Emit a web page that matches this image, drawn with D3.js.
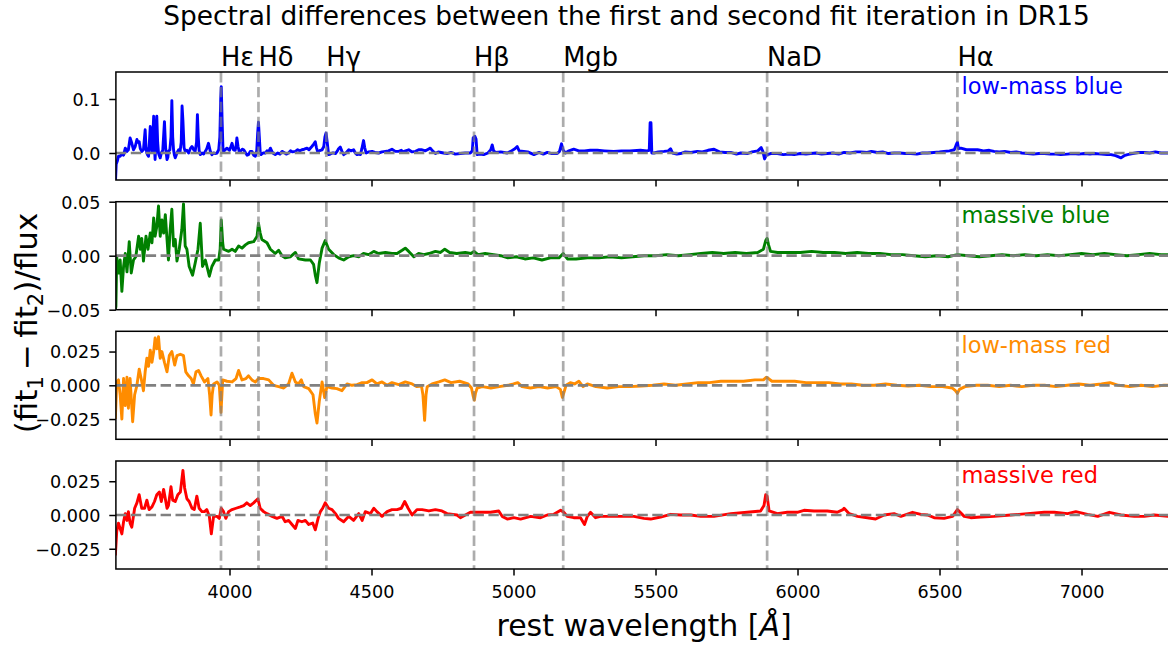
<!DOCTYPE html>
<html><head><meta charset="utf-8">
<script src="https://cdn.jsdelivr.net/npm/d3@7"></script>
<style>
body{margin:0;background:#fff;}
text{font-family:"DejaVu Sans",sans-serif;}
</style>
</head><body>
<svg id="chart" width="1168" height="649"></svg>
<script>
// ---------- data ----------
const title = "Spectral differences between the first and second fit iteration in DR15";
const lineNames = ["Hε","Hδ","Hγ","Hβ","Mgb","NaD","Hα"];
const lineWaves = [3970,4102,4341,4861,5175,5893,6563];
const panelNames = ["low-mass blue","massive blue","low-mass red","massive red"];
const panelColors = ["#0000ff","#008000","#ff8c00","#ff0000"];
const panelYDomains = [[-0.05,0.15],[-0.05,0.05],[-0.04,0.04],[-0.04,0.04]];
const panelYTicks = [[0,0.1],[-0.05,0,0.05],[-0.025,0,0.025],[-0.025,0,0.025]];
const panelYFormats = [".1f",".2f",".3f",".3f"];
const xTicks = [4000,4500,5000,5500,6000,6500,7000];
const xDomain = [3600,7320];

const lowMassBlue = [[3598,-0.06],[3601,-0.021],[3605,-0.015],[3609,-0.006],[3615,-0.006],[3620,-0.002],[3627,-0.004],[3633,0.009],[3639,0.003],[3644,0.006],[3650,0.028],[3656,0.018],[3662,0.006],[3668,0.012],[3674,0.025],[3678,0.02],[3682,0.021],[3686,0.008],[3691,0.003],[3697,0.006],[3703,0.043],[3706,0.01],[3709,0.0],[3712,-0.004],[3715,-0.006],[3718,0.02],[3721,0.049],[3724,0.02],[3727,0.003],[3730,0.03],[3733,0.068],[3736,0.01],[3738,-0.012],[3741,0.02],[3744,0.068],[3747,0.02],[3750,0.0],[3753,-0.005],[3756,-0.009],[3760,0.0],[3765,0.005],[3771,0.058],[3775,0.01],[3780,-0.012],[3783,-0.008],[3785,0.003],[3790,0.006],[3794,0.03],[3797,0.097],[3800,0.03],[3803,0.006],[3806,-0.004],[3809,-0.009],[3815,0.0],[3821,0.006],[3826,0.003],[3830,0.02],[3833,0.087],[3836,0.06],[3840,0.01],[3844,0.003],[3850,0.005],[3856,0.0],[3862,0.008],[3868,0.012],[3874,0.006],[3879,0.003],[3884,0.02],[3887,0.071],[3890,0.03],[3893,0.005],[3897,-0.003],[3903,0.0],[3909,-0.002],[3915,0.003],[3920,0.008],[3926,0.018],[3932,0.004],[3938,-0.003],[3944,0.0],[3950,-0.001],[3956,0.0],[3962,0.006],[3966,0.03],[3969,0.1],[3971,0.123],[3974,0.06],[3977,0.008],[3979,0.003],[3985,0.006],[3991,0.009],[4000,0.005],[4005,0.012],[4009,0.018],[4014,0.006],[4020,0.005],[4024,0.016],[4026,0.028],[4030,0.012],[4034,0.003],[4040,0.004],[4045,0.007],[4050,0.006],[4057,0.0],[4062,-0.004],[4067,-0.003],[4073,0.003],[4079,0.003],[4085,-0.004],[4091,-0.006],[4096,0.005],[4099,0.035],[4102,0.057],[4105,0.03],[4108,0.002],[4111,-0.003],[4118,0.0],[4126,0.0],[4132,0.004],[4138,0.002],[4144,0.009],[4150,0.002],[4155,-0.001],[4161,-0.003],[4170,0.0],[4178,-0.002],[4185,0.003],[4192,0.001],[4200,-0.002],[4208,0.0],[4215,0.004],[4222,0.002],[4232,0.003],[4240,0.006],[4248,0.004],[4255,0.006],[4263,0.007],[4273,0.009],[4280,0.006],[4290,0.012],[4296,0.016],[4302,0.021],[4306,0.01],[4310,0.003],[4314,0.003],[4320,0.005],[4326,0.006],[4332,0.012],[4336,0.03],[4340,0.037],[4344,0.02],[4349,-0.003],[4355,-0.002],[4362,0.0],[4368,0.0],[4373,-0.001],[4380,0.004],[4384,0.008],[4390,0.011],[4396,0.003],[4402,-0.003],[4410,0.0],[4420,0.006],[4428,0.004],[4437,0.006],[4443,0.0],[4449,-0.003],[4455,-0.002],[4461,-0.003],[4466,0.008],[4470,0.018],[4472,0.023],[4476,0.01],[4481,0.0],[4490,0.002],[4502,0.003],[4512,0.001],[4525,0.0],[4537,0.002],[4549,0.003],[4560,0.004],[4572,0.007],[4584,0.003],[4596,0.003],[4605,0.005],[4612,0.002],[4620,0.004],[4631,0.006],[4643,0.002],[4655,0.003],[4666,0.006],[4678,0.006],[4690,0.004],[4700,0.007],[4707,0.009],[4715,0.004],[4725,-0.001],[4735,0.002],[4745,0.001],[4754,0.0],[4766,-0.001],[4780,0.001],[4795,-0.002],[4813,-0.001],[4830,0.0],[4848,0.0],[4855,0.004],[4858,0.028],[4864,0.031],[4868,0.026],[4872,-0.003],[4880,-0.002],[4895,-0.003],[4910,0.0],[4920,0.006],[4925,0.015],[4930,0.004],[4937,0.001],[4955,0.002],[4978,0.0],[4990,0.003],[5005,0.008],[5013,0.012],[5020,0.004],[5036,0.003],[5050,0.002],[5072,-0.003],[5090,0.001],[5105,-0.002],[5119,0.001],[5135,-0.001],[5154,-0.001],[5162,0.003],[5169,0.017],[5175,0.005],[5183,0.0],[5195,0.004],[5212,0.007],[5230,0.004],[5250,0.004],[5270,0.005],[5295,0.005],[5320,0.004],[5353,0.003],[5380,0.004],[5410,0.004],[5447,0.005],[5470,0.004],[5478,0.005],[5481,0.056],[5484,0.056],[5487,0.0],[5495,0.0],[5510,0.002],[5530,0.003],[5545,0.004],[5553,0.008],[5560,0.0],[5575,-0.002],[5588,-0.001],[5605,0.002],[5625,0.001],[5647,0.003],[5665,0.002],[5685,0.005],[5706,0.007],[5725,0.002],[5745,0.001],[5765,0.001],[5785,-0.002],[5800,0.0],[5823,-0.001],[5840,0.002],[5860,0.004],[5872,0.01],[5878,0.003],[5884,-0.011],[5890,-0.004],[5905,-0.001],[5929,-0.001],[5950,-0.003],[5970,-0.002],[5988,-0.003],[6010,-0.001],[6030,-0.002],[6046,-0.001],[6065,0.0],[6085,-0.002],[6105,-0.001],[6125,0.0],[6145,-0.002],[6164,0.001],[6185,0.0],[6205,0.002],[6223,0.002],[6245,0.001],[6260,0.003],[6281,0.001],[6300,0.002],[6320,-0.001],[6340,0.0],[6360,0.0],[6380,-0.001],[6399,-0.001],[6420,-0.002],[6440,0.0],[6458,0.0],[6480,0.001],[6500,0.002],[6516,0.003],[6535,0.004],[6552,0.006],[6558,0.014],[6563,0.02],[6567,0.008],[6575,0.009],[6595,0.006],[6615,0.006],[6634,0.006],[6655,0.004],[6675,0.005],[6692,0.003],[6710,0.002],[6730,0.003],[6751,0.001],[6770,0.002],[6790,0.0],[6810,-0.001],[6830,-0.002],[6850,-0.001],[6869,-0.001],[6890,-0.002],[6910,-0.002],[6927,-0.003],[6950,-0.002],[6970,-0.001],[6990,-0.002],[7010,-0.001],[7030,-0.002],[7045,-0.001],[7070,-0.002],[7090,-0.003],[7104,-0.003],[7120,-0.005],[7139,-0.009],[7150,-0.005],[7162,-0.003],[7180,-0.001],[7200,0.001],[7221,0.001],[7240,0.0],[7260,0.002],[7280,0.0],[7300,0.0],[7320,0.0]];

const massiveBlue = [[3598,-0.05],[3600,-0.047],[3603,-0.001],[3609,-0.016],[3615,-0.004],[3621,-0.033],[3627,-0.01],[3633,0.002],[3639,-0.015],[3647,0.013],[3654,-0.016],[3662,-0.004],[3670,-0.001],[3680,0.018],[3686,0.006],[3691,0.016],[3697,-0.005],[3706,0.018],[3713,0.006],[3721,0.021],[3727,0.012],[3733,0.035],[3738,0.018],[3744,0.027],[3750,0.046],[3756,0.018],[3762,0.033],[3768,0.021],[3774,0.038],[3780,0.015],[3785,-0.004],[3791,0.024],[3797,0.043],[3803,0.009],[3809,0.015],[3815,-0.005],[3823,0.006],[3832,0.024],[3838,0.048],[3844,0.009],[3850,0.006],[3858,-0.01],[3870,-0.018],[3879,-0.007],[3889,0.006],[3897,0.03],[3905,-0.01],[3915,-0.004],[3929,-0.019],[3938,-0.01],[3950,-0.004],[3962,-0.004],[3967,0.006],[3971,0.033],[3976,0.012],[3979,0.006],[3997,0.004],[4009,0.006],[4020,0.004],[4032,0.009],[4044,0.007],[4056,0.01],[4067,0.012],[4085,0.013],[4097,0.018],[4102,0.03],[4108,0.021],[4114,0.015],[4132,0.012],[4144,0.006],[4161,0.002],[4173,0.005],[4185,0.0],[4196,-0.002],[4214,-0.001],[4232,0.003],[4243,-0.003],[4267,-0.004],[4285,-0.004],[4296,-0.008],[4302,-0.018],[4308,-0.025],[4316,-0.007],[4326,0.007],[4337,0.014],[4349,0.006],[4367,0.001],[4384,-0.002],[4402,-0.004],[4420,-0.001],[4437,0.0],[4455,-0.001],[4472,0.002],[4490,0.001],[4508,0.004],[4525,0.002],[4549,0.003],[4572,0.002],[4590,0.002],[4608,0.005],[4619,0.007],[4631,0.004],[4649,-0.001],[4666,0.002],[4684,0.001],[4702,0.002],[4725,0.004],[4743,0.003],[4758,0.006],[4775,0.003],[4800,0.002],[4830,0.003],[4850,0.002],[4861,0.004],[4875,0.001],[4900,0.002],[4930,0.001],[4955,0.0],[4980,-0.002],[5010,-0.001],[5040,-0.003],[5070,-0.002],[5100,-0.004],[5130,-0.002],[5160,-0.002],[5175,0.002],[5190,-0.003],[5220,-0.003],[5260,-0.002],[5300,-0.002],[5340,-0.001],[5380,-0.002],[5420,-0.001],[5460,0.0],[5500,0.0],[5540,0.001],[5580,0.0],[5620,0.001],[5660,0.002],[5700,0.003],[5740,0.002],[5780,0.003],[5820,0.002],[5860,0.003],[5880,0.006],[5888,0.014],[5893,0.016],[5898,0.01],[5905,0.004],[5930,0.003],[5970,0.003],[6010,0.003],[6050,0.004],[6090,0.003],[6130,0.003],[6170,0.002],[6210,0.003],[6250,0.002],[6290,0.002],[6330,0.001],[6370,0.001],[6410,0.0],[6450,-0.001],[6490,0.0],[6530,-0.001],[6563,0.001],[6600,0.0],[6640,-0.001],[6680,0.0],[6720,0.001],[6760,0.0],[6800,0.001],[6840,0.0],[6880,0.001],[6920,0.0],[6960,0.001],[7000,0.002],[7040,0.001],[7080,0.002],[7120,0.001],[7160,0.0],[7200,0.001],[7240,0.002],[7280,0.001],[7320,0.001]];

const lowMassRed = [[3598,-0.025],[3603,0.0025],[3609,0.004],[3615,-0.007],[3621,-0.025],[3627,0.005],[3633,-0.015],[3639,0.006],[3644,-0.017],[3650,0.005],[3659,-0.027],[3666,-0.007],[3674,0.0],[3682,0.012],[3689,0.005],[3697,-0.004],[3703,0.01],[3709,0.02],[3715,0.014],[3721,0.026],[3727,0.017],[3733,0.025],[3738,0.035],[3744,0.027],[3750,0.036],[3756,0.02],[3762,0.025],[3771,0.017],[3780,0.01],[3788,0.022],[3797,0.025],[3807,0.015],[3815,0.022],[3827,0.023],[3838,0.022],[3846,0.01],[3856,0.007],[3865,0.005],[3873,0.001],[3882,0.01],[3891,0.011],[3900,0.007],[3912,0.0025],[3924,0.005],[3930,-0.007],[3935,-0.022],[3939,-0.007],[3944,0.001],[3956,0.0025],[3964,0.0],[3970,-0.02],[3976,0.004],[3991,0.003],[4009,0.0025],[4023,0.005],[4032,0.011],[4044,0.004],[4058,0.005],[4067,0.007],[4079,0.004],[4091,0.0025],[4102,0.005],[4120,0.005],[4138,0.004],[4155,0.0],[4173,-0.001],[4191,-0.002],[4208,0.001],[4220,0.009],[4232,0.0025],[4243,0.001],[4253,0.004],[4261,-0.001],[4279,-0.0025],[4294,-0.007],[4302,-0.021],[4308,-0.028],[4316,-0.012],[4326,0.0025],[4335,-0.009],[4343,-0.001],[4361,-0.002],[4378,-0.0025],[4396,-0.004],[4414,0.001],[4431,0.0],[4449,0.0005],[4467,0.002],[4484,0.002],[4502,0.004],[4519,0.001],[4537,0.0025],[4555,0.0],[4572,0.002],[4596,0.0005],[4619,0.0025],[4643,0.001],[4660,-0.001],[4676,-0.0005],[4681,-0.007],[4687,-0.026],[4692,-0.007],[4696,-0.001],[4713,0.001],[4737,0.0025],[4758,0.004],[4780,0.002],[4810,0.003],[4840,0.001],[4852,-0.002],[4858,-0.008],[4862,-0.011],[4866,-0.006],[4872,-0.002],[4890,-0.001],[4920,-0.002],[4950,-0.001],[4980,0.0],[5000,0.001],[5015,0.002],[5030,-0.001],[5060,-0.002],[5090,-0.001],[5120,-0.002],[5150,-0.001],[5165,-0.003],[5172,-0.009],[5178,-0.005],[5185,0.0],[5200,0.002],[5215,0.001],[5230,0.003],[5245,-0.001],[5260,0.001],[5290,-0.001],[5330,-0.002],[5370,-0.001],[5410,-0.001],[5450,-0.0005],[5490,0.0],[5530,0.001],[5570,0.0],[5610,0.001],[5650,0.002],[5690,0.002],[5730,0.003],[5770,0.003],[5810,0.003],[5850,0.004],[5880,0.004],[5890,0.006],[5898,0.005],[5910,0.003],[5950,0.003],[5990,0.003],[6030,0.002],[6070,0.002],[6110,0.002],[6150,0.001],[6190,0.001],[6230,0.0],[6270,0.0],[6310,0.001],[6350,0.0],[6390,-0.0005],[6430,0.0],[6470,-0.001],[6510,-0.001],[6545,-0.002],[6556,-0.004],[6563,-0.006],[6570,-0.003],[6590,-0.001],[6630,0.0],[6670,0.0],[6710,-0.001],[6750,0.0],[6790,-0.001],[6830,0.0],[6870,0.0],[6910,-0.001],[6950,0.0],[6990,0.001],[7030,0.0],[7070,0.001],[7100,0.002],[7130,0.0],[7170,-0.001],[7210,0.0],[7250,-0.001],[7290,0.0],[7320,0.0]];

const massiveRed = [[3598,-0.03],[3603,-0.012],[3609,-0.006],[3615,-0.01],[3621,-0.014],[3627,-0.005],[3633,0.001],[3639,-0.004],[3644,0.0025],[3650,-0.006],[3656,-0.009],[3666,0.005],[3674,0.009],[3682,0.015],[3691,0.005],[3701,0.005],[3709,0.011],[3717,0.004],[3727,0.006],[3736,0.01],[3744,0.015],[3753,0.017],[3760,0.01],[3768,0.019],[3774,0.012],[3780,0.005],[3785,0.007],[3794,0.021],[3800,0.011],[3809,0.01],[3818,0.015],[3827,0.017],[3836,0.033],[3842,0.02],[3850,0.012],[3858,0.01],[3868,0.005],[3876,0.004],[3885,0.014],[3893,0.005],[3903,0.0025],[3912,0.0025],[3920,0.004],[3929,-0.001],[3936,-0.014],[3944,-0.001],[3956,-0.001],[3964,-0.0025],[3971,0.005],[3979,0.0025],[3987,-0.0025],[3997,0.0025],[4009,0.004],[4023,0.005],[4038,0.006],[4050,0.007],[4061,0.009],[4073,0.007],[4085,0.009],[4100,0.012],[4108,0.005],[4120,0.0025],[4132,0.001],[4150,-0.001],[4167,-0.0025],[4185,-0.001],[4196,-0.005],[4208,-0.004],[4220,-0.007],[4232,-0.01],[4241,-0.004],[4255,-0.005],[4267,-0.004],[4279,-0.007],[4293,-0.006],[4302,-0.011],[4312,-0.0025],[4320,0.0025],[4328,0.005],[4337,0.009],[4349,0.005],[4361,0.004],[4373,0.001],[4384,-0.0025],[4402,-0.005],[4420,-0.001],[4437,-0.004],[4455,0.001],[4467,-0.004],[4478,0.0025],[4496,0.001],[4508,0.005],[4519,0.0025],[4537,-0.001],[4555,0.0025],[4572,0.004],[4590,0.004],[4605,0.005],[4617,0.01],[4629,0.005],[4643,0.0],[4660,0.004],[4678,0.004],[4702,0.003],[4725,0.004],[4748,0.003],[4766,0.001],[4801,0.0],[4813,-0.002],[4848,0.002],[4884,0.002],[4919,0.002],[4948,0.003],[4960,-0.001],[4978,-0.003],[5001,-0.002],[5025,-0.003],[5060,-0.001],[5095,-0.002],[5119,0.0],[5142,0.0005],[5166,0.0035],[5177,0.002],[5189,-0.001],[5212,-0.002],[5236,-0.002],[5250,-0.007],[5260,-0.001],[5271,0.002],[5289,-0.002],[5306,-0.001],[5330,-0.001],[5353,-0.001],[5389,-0.001],[5424,-0.001],[5459,-0.0025],[5483,-0.003],[5518,-0.0015],[5553,0.0005],[5588,0.0],[5624,0.0],[5659,-0.001],[5706,-0.001],[5765,0.001],[5823,0.002],[5870,0.003],[5882,0.007],[5888,0.015],[5893,0.014],[5900,0.003],[5929,0.001],[5964,0.002],[5999,0.002],[6023,0.0035],[6058,0.003],[6105,0.003],[6140,0.002],[6160,0.004],[6164,0.005],[6182,0.001],[6211,-0.001],[6246,-0.002],[6275,-0.003],[6305,0.0],[6340,0.001],[6364,-0.001],[6405,0.002],[6434,0.0005],[6458,0.0],[6481,-0.002],[6516,-0.0025],[6546,-0.001],[6563,0.004],[6587,-0.001],[6610,-0.002],[6645,-0.0015],[6692,-0.001],[6751,0.0],[6810,0.001],[6869,0.002],[6904,0.002],[6951,0.001],[6980,0.0025],[7021,0.0005],[7057,-0.001],[7098,0.002],[7139,0.0],[7186,-0.001],[7221,-0.001],[7256,0.0],[7308,-0.001]];

const panelSeries = [lowMassBlue, massiveBlue, lowMassRed, massiveRed];

// ---------- layout ----------
const W = 1168, H = 649;
const left = 115.9, right = 1172.4;
const panelTops = [72, 201.7, 331.3, 461];
const panelH = 108;
const tickLen = 6.6;

const svg = d3.select("#chart");
const x = d3.scaleLinear().domain(xDomain).range([left, right]);
const fmtMinus = s => s.replace("-", "\u2212");

svg.append("text").attr("x", 626.5).attr("y", 25).attr("text-anchor","middle")
  .attr("font-size", 26.4).attr("fill","#000").text(title);

panelSeries.forEach((data, i) => {
  const top = panelTops[i];
  const y = d3.scaleLinear().domain(panelYDomains[i]).range([top + panelH, top]);
  const g = svg.append("g");
  const clipId = "clip" + i;
  svg.append("clipPath").attr("id", clipId).append("rect")
    .attr("x", left).attr("y", top).attr("width", right - left).attr("height", panelH);

  // spectrum
  g.append("path").datum(data)
    .attr("clip-path", `url(#${clipId})`)
    .attr("fill","none").attr("stroke", panelColors[i]).attr("stroke-width", 2.9)
    .attr("stroke-linejoin","round")
    .attr("d", d3.line().x(d => x(d[0])).y(d => y(d[1])));

  // zero line
  g.append("line").attr("x1", left).attr("x2", right).attr("y1", y(0)).attr("y2", y(0))
    .attr("stroke","#808080").attr("stroke-width", 2.7).attr("stroke-dasharray","10.4,4.5");

  // spectral lines
  g.selectAll("line.sl").data(lineWaves).enter().append("line").attr("class","sl")
    .attr("x1", d => x(d)).attr("x2", d => x(d)).attr("y1", top).attr("y2", top + panelH)
    .attr("stroke","#808080").attr("stroke-opacity",0.65).attr("stroke-width", 2.7)
    .attr("stroke-dasharray","10.4,4.5");

  // panel label
  g.append("text").attr("x", x(6577)).attr("y", top + 21.5).attr("font-size", 22.5)
    .attr("fill", panelColors[i]).text(panelNames[i]);

  // y axis
  const yAxis = d3.axisLeft(y).tickValues(panelYTicks[i]).tickSize(tickLen).tickPadding(6)
    .tickFormat(d => fmtMinus(d3.format(panelYFormats[i])(d)));
  const ya = svg.append("g").attr("transform", `translate(${left},0)`).call(yAxis);
  ya.select(".domain").remove();
  ya.selectAll(".tick line").attr("stroke","#000").attr("stroke-width",1.5);
  ya.selectAll(".tick text").attr("font-size",17.6).attr("fill","#000")
    .attr("font-family","DejaVu Sans").attr("x",-15.5).attr("dy","0.36em");

  // x axis
  const xAxis = d3.axisBottom(x).tickValues(xTicks).tickSize(tickLen).tickPadding(5)
    .tickFormat(i === 3 ? d3.format("d") : () => "");
  const xa = svg.append("g").attr("transform", `translate(0,${top + panelH})`).call(xAxis);
  xa.select(".domain").remove();
  xa.selectAll(".tick line").attr("stroke","#000").attr("stroke-width",1.5);
  xa.selectAll(".tick text").attr("font-size",17.6).attr("fill","#000")
    .attr("font-family","DejaVu Sans").attr("y", 28.5).attr("dy", 0);

  // frame
  svg.append("rect").attr("x", left).attr("y", top).attr("width", right - left).attr("height", panelH)
    .attr("fill","none").attr("stroke","#000").attr("stroke-width",1.5);
});

// line labels above the top panel
svg.selectAll("text.ln").data(lineWaves).enter().append("text").attr("class","ln")
  .attr("x", d => x(d)).attr("y", 66).attr("font-size", 25.7).attr("fill","#000")
  .text((d, i) => lineNames[i]);

// x label
const xl = svg.append("text").attr("x", (left + right) / 2).attr("y", 636)
  .attr("text-anchor","middle").attr("font-size", 30).attr("fill","#000");
xl.append("tspan").text("rest wavelength [");
xl.append("tspan").attr("font-style","italic").text("Å");
xl.append("tspan").text("]");

// y label
const yl = svg.append("text").attr("transform","translate(37,323) rotate(-90)")
  .attr("text-anchor","middle").attr("font-size", 31).attr("fill","#000");
yl.append("tspan").text("(fit");
yl.append("tspan").attr("font-size", 21).attr("dy", 6).text("1");
yl.append("tspan").attr("dy", -6).text("\u2009\u2212\u2009fit");
yl.append("tspan").attr("font-size", 21).attr("dy", 6).text("2");
yl.append("tspan").attr("dy", -6).text(")/flux");
</script>
</body></html>
